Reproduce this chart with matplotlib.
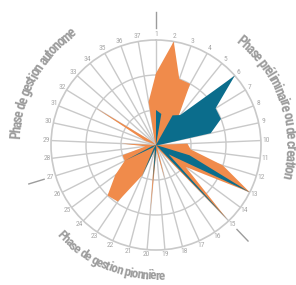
import numpy as np
import matplotlib
matplotlib.use("Agg")
import matplotlib.pyplot as plt
from matplotlib import font_manager

# 37 criteria around the wheel, values on a 0-3 scale
spokes = [str(i) for i in range(1, 38)]
orange_vals = [2.05, 3.0, 2.0, 2.0, 1.0, 1.0, 0.8, 0.4, 0.0, 0.9,
               1.0, 2.0, 3.0, 1.05, 2.95, 0.2, 0.1, 1.0, 0.15, 1.95,
               0.15, 0.95, 1.95, 2.0, 1.45, 1.0, 1.0, 0.3, 1.0, 0.0,
               0.35, 2.0, 0.15, 0.0, 0.0, 0.1, 1.25]
blue_vals = [1.0, 0.9, 0.0, 0.97, 1.1, 3.0, 2.0, 2.0, 1.6, 0.1,
             0.0, 1.0, 3.0, 0.45, 2.97, 0.0, 0.0, 0.0, 0.12, 1.05,
             0.12, 1.0, 0.12, 0.0, 0.12, 1.0, 0.12, 0.0, 0.0, 0.0,
             0.0, 0.0, 0.0, 0.0, 0.0, 0.0, 0.0]
phase_labels = ["Phase préliminaire ou de création",
                "Phase de gestion pionnière",
                "Phase de gestion autonome"]
phase_marks = [1, 15, 27]

ORANGE = "#f08b4b"
BLUE = "#0b6d8c"
GRID = "#c9c9c9"
NUM = "#a8a8a8"
PHASE = "#9c9c9c"

names = {f.name for f in font_manager.fontManager.ttflist}
FAMILY = "Roboto Condensed" if "Roboto Condensed" in names else "DejaVu Sans"

W, H = 296, 285
cx, cy, R = 156, 145, 105
fig = plt.figure(figsize=(W / 100, H / 100), dpi=100)
ax = fig.add_axes([(cx - R) / W, (H - cy - R) / H, 2 * R / W, 2 * R / H], projection="polar")
ax.set_theta_zero_location("N")
ax.set_theta_direction(-1)
ax.set_ylim(0, 3)

n = len(spokes)
theta = np.arange(n) * 2 * np.pi / n
ax.set_xticks(theta)
ax.set_xticklabels([])
ax.set_yticks([1, 2])
ax.set_yticklabels([])
ax.set_axisbelow(True)
ax.grid(True, color=GRID, lw=1)
ax.spines["polar"].set_color(GRID)
ax.spines["polar"].set_linewidth(1.2)

tt = np.append(theta, theta[0])
ax.fill(tt, orange_vals + orange_vals[:1], color=ORANGE, lw=0, zorder=3)
ax.fill(tt, blue_vals + blue_vals[:1], color=BLUE, lw=0, zorder=4)

px = 3 / R  # data units per pixel
for t, lab in zip(theta, spokes):
    ax.text(t, 110 * px, lab, ha="center", va="center", fontsize=5.4,
            family=FAMILY, color=NUM)

for k in phase_marks:
    ax.plot([theta[k - 1]] * 2, [117 * px, 133 * px], color=PHASE, lw=1, clip_on=False)

renderer = fig.canvas.get_renderer()


def arc_text(s, start, end, r_px, outward, grow=1.22):
    # letters one by one along a circle, first letter at `start`, last at `end` (bearings)
    span = np.deg2rad(abs(end - start)) * r_px
    fp = font_manager.FontProperties(family=FAMILY, weight="bold", size=10)
    wx = renderer.get_text_width_height_descent("x", fp, ismath=False)[0]
    cum = [0] + [renderer.get_text_width_height_descent(s[:i] + "x", fp, ismath=False)[0] - wx
                 for i in range(1, len(s) + 1)]
    centers = [(cum[i] + cum[i + 1]) / 2 for i in range(len(s))]
    scale = span / (centers[-1] - centers[0])
    size = 10 * scale * grow
    mid = (start + end) / 2
    c0 = (centers[0] + centers[-1]) / 2
    for ch, c in zip(s, centers):
        if ch == " ":
            continue
        a = np.rad2deg((c - c0) * scale / r_px)
        if outward:
            b = mid + a
            rot = -b
        else:
            b = mid - a
            rot = 180 - b
        ax.text(np.deg2rad(b), r_px * px, ch, rotation=rot, rotation_mode="anchor",
                ha="center", va="center", fontsize=size, fontweight="bold",
                family=FAMILY, color=PHASE)


arc_text(phase_labels[0], 39.5, 103, 134, True)
arc_text(phase_labels[1], 226.5, 177.4, 131, False)
arc_text(phase_labels[2], 274, 323, 140, True)

fig.savefig("out.png", dpi=100, facecolor="white")
